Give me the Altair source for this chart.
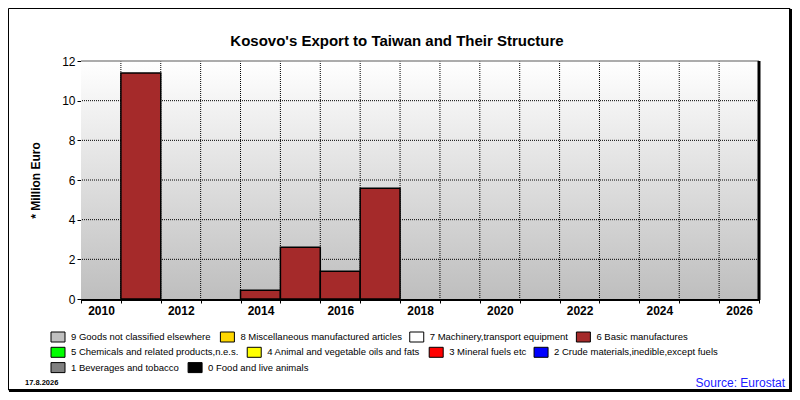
import altair as alt
import pandas as pd

# ---------------- data ----------------
years = [2011, 2014, 2015, 2016, 2017]
values = [11.4, 0.44, 2.61, 1.40, 5.59]
bar_category = "6 Basic manufactures"

categories = [
    "9 Goods not classified elsewhere",
    "8 Miscellaneous manufactured articles",
    "7 Machinery,transport equipment",
    "6 Basic manufactures",
    "5 Chemicals and related products,n.e.s.",
    "4 Animal and vegetable oils and fats",
    "3 Mineral fuels etc",
    "2 Crude materials,inedible,except fuels",
    "1 Beverages and tobacco",
    "0 Food and live animals",
]
colors = ["#c0c0c0", "#ffd700", "#ffffff", "#a52a2a", "#00ff00",
          "#ffff00", "#ff0000", "#0000ff", "#808080", "#000000"]
legend_rows = [[0, 1, 2, 3], [4, 5, 6, 7], [8, 9]]

x_ticks = list(range(2010, 2028))
y_ticks = [0, 2, 4, 6, 8, 10, 12]

title_text = "Kosovo's Export to Taiwan and Their Structure"
y_title = "* Million Euro"
date_text = "17.8.2026"
source_text = "Source: Eurostat"

# ---------------- layout ----------------
W, H = 678, 238
PAD_L, PAD_T = 73, 53
TOTAL_W, TOTAL_H = 784, 384
PAD_R = TOTAL_W - PAD_L - W
PAD_B = TOTAL_H - PAD_T - H
FONT = "Liberation Sans"
LEG_FONT = 9.5

# Arial-like advance widths (per 1000 em) for the flowing legend layout
_w = {" ": 278, ",": 278, ".": 278, "G": 778, "F": 611}
_w.update({d: 556 for d in "0123456789"})
_w.update(dict(zip("abcdefghijklmnopqrstuvwxyz",
                   [556, 556, 500, 556, 556, 278, 556, 556, 222, 222, 500, 222, 833,
                    556, 556, 556, 556, 333, 500, 278, 556, 500, 722, 500, 500, 500])))


def text_width(s, size):
    return sum(_w.get(ch, 600) for ch in s) * size / 1000.0


# legend entries flow left to right like text
leg_x0, leg_y0, leg_dy = -30, 276, 15.3
sq_w, sq_h, sq_gap, item_gap = 14, 10, 6, 10
rows = []
for r, idxs in enumerate(legend_rows):
    cur = leg_x0
    for i in idxs:
        lab = categories[i]
        rows.append({"cat": lab, "x0": cur, "x1": cur + sq_w, "tx": cur + sq_w + sq_gap,
                     "yc": leg_y0 + r * leg_dy,
                     "y0": leg_y0 + r * leg_dy - sq_h / 2, "y1": leg_y0 + r * leg_dy + sq_h / 2})
        cur = cur + sq_w + sq_gap + text_width(lab, LEG_FONT) + item_gap
legend_df = pd.DataFrame(rows)

bars_df = pd.DataFrame({
    "year": years,
    "year_end": [y + 1 for y in years],
    "value": values,
    "zero": [0] * len(years),
    "category": [bar_category] * len(years),
})
vgrid_df = pd.DataFrame({"t": x_ticks[1:-1]})
hgrid_df = pd.DataFrame({"v": y_ticks[1:-1]})
one = pd.DataFrame({"a": [0]})

xscale = alt.Scale(domain=[x_ticks[0], x_ticks[-1]], nice=False, zero=False)
yscale = alt.Scale(domain=[y_ticks[0], y_ticks[-1]], nice=False)
cscale = alt.Scale(domain=categories, range=colors)

gradient = alt.LinearGradient(
    gradient="linear",
    stops=[alt.GradientStop(color="#ffffff", offset=0),
           alt.GradientStop(color="#bebebe", offset=1)],
    x1=0, x2=0, y1=0, y2=1,
)

bg = alt.Chart(one).mark_rect(fill=gradient).encode(
    x=alt.value(0), x2=alt.value(W), y=alt.value(0), y2=alt.value(H)
)

vgrid = alt.Chart(vgrid_df).mark_rule(color="black", strokeDash=[1, 1], strokeWidth=1).encode(
    x=alt.X("t:Q", scale=xscale, axis=None)
)
hgrid = alt.Chart(hgrid_df).mark_rule(color="black", strokeDash=[1, 1], strokeWidth=1).encode(
    y=alt.Y("v:Q", scale=yscale, axis=None)
)

bars = alt.Chart(bars_df).mark_rect(stroke="black", strokeWidth=1.5).encode(
    x=alt.X("year:Q", scale=xscale, title=None,
            axis=alt.Axis(values=x_ticks, grid=False, domainColor="black", domainWidth=3,
                          tickColor="black", tickSize=4, labelFont=FONT, labelFontSize=12,
                          labelFontWeight="bold", labelColor="black", labelOffset=20,
                          labelFlush=False, labelOverlap=False, labelPadding=2,
                          labelExpr="(datum.value % 2 == 0 && datum.value < 2027) ? datum.value : ''")),
    x2="year_end:Q",
    y=alt.Y("value:Q", scale=yscale, title=y_title,
            axis=alt.Axis(values=y_ticks, grid=False, domainColor="black", domainWidth=1,
                          tickColor="black", tickSize=4, labelFont=FONT, labelFontSize=12,
                          labelColor="black", labelPadding=2, titleFont=FONT, titleFontSize=12,
                          titleFontWeight="bold", titleColor="black", titlePadding=19)),
    y2="zero:Q",
    color=alt.Color("category:N", scale=cscale, legend=None),
)

top_border = alt.Chart(one).mark_rule(color="#909090", strokeWidth=1.5).encode(
    x=alt.value(0), x2=alt.value(W), y=alt.value(0)
)
right_border = alt.Chart(one).mark_rule(color="black", strokeWidth=3).encode(
    x=alt.value(W), y=alt.value(0), y2=alt.value(H + 1)
)

leg_sq = alt.Chart(legend_df).mark_rect(stroke="black", strokeWidth=1).encode(
    x=alt.X("x0:Q", scale=None, axis=None), x2="x1:Q",
    y=alt.Y("y0:Q", scale=None, axis=None), y2="y1:Q",
    color=alt.Color("cat:N", scale=cscale, legend=None),
)
leg_tx = alt.Chart(legend_df).mark_text(font=FONT, fontSize=LEG_FONT, align="left",
                                        baseline="middle", color="black").encode(
    x=alt.X("tx:Q", scale=None, axis=None),
    y=alt.Y("yc:Q", scale=None, axis=None),
    text="cat:N",
)

frame = alt.Chart(one).mark_rect(fill=None, stroke="black", strokeWidth=1).encode(
    x=alt.value(-PAD_L + 0.5), x2=alt.value(W + PAD_R - 2),
    y=alt.value(-PAD_T + 0.5), y2=alt.value(H + PAD_B - 2)
)
frame_r = alt.Chart(one).mark_rule(color="black", strokeWidth=3).encode(
    x=alt.value(W + PAD_R - 1.5), y=alt.value(-PAD_T + 1), y2=alt.value(H + PAD_B)
)
frame_b = alt.Chart(one).mark_rule(color="black", strokeWidth=3).encode(
    y=alt.value(H + PAD_B - 1.5), x=alt.value(-PAD_L + 1), x2=alt.value(W + PAD_R)
)

title_mark = alt.Chart(one).mark_text(text=title_text, font=FONT, fontSize=15, fontWeight="bold",
                                      align="center", baseline="middle", color="black").encode(
    x=alt.value(316), y=alt.value(-20)
)
date_mark = alt.Chart(one).mark_text(text=date_text, font=FONT, fontSize=7.5, fontWeight="bold",
                                     align="left", baseline="middle", color="black").encode(
    x=alt.value(-56), y=alt.value(322)
)
source_mark = alt.Chart(one).mark_text(text=source_text, font=FONT, fontSize=12,
                                       align="right", baseline="middle", color="#2020ff").encode(
    x=alt.value(W + PAD_R - 7), y=alt.value(322)
)

chart = alt.layer(
    bg, vgrid, hgrid, bars, top_border, right_border, leg_sq, leg_tx,
    frame, frame_r, frame_b, title_mark, date_mark, source_mark
).resolve_scale(
    x="independent", y="independent"
).resolve_axis(
    x="independent", y="independent"
).properties(
    width=W, height=H,
    autosize=alt.AutoSizeParams(type="none"),
    padding={"left": PAD_L, "top": PAD_T, "right": PAD_R, "bottom": PAD_B},
).configure_view(stroke=None).configure(background="white")

chart.save("out.html", embed_options={"renderer": "svg", "actions": False})
